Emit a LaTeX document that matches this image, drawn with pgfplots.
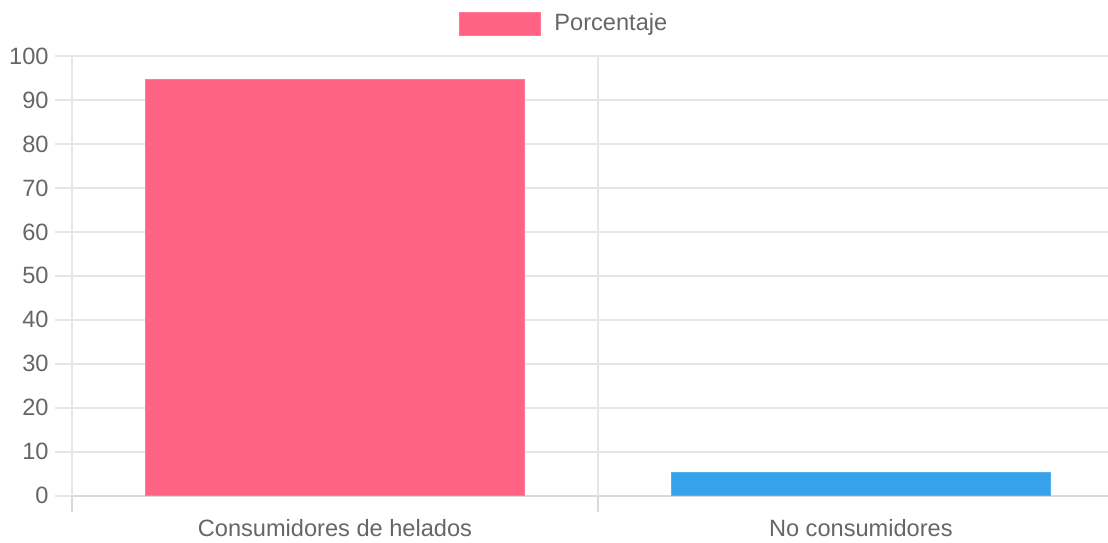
\documentclass[border=0pt]{standalone}
\usepackage{pgfplots}
\pgfplotsset{compat=1.18}
\usepackage{fontspec}
\setmainfont{Liberation Sans}
\definecolor{cpink}{HTML}{FF6384}
\definecolor{cblue}{HTML}{36A2EB}
\definecolor{cgrid}{HTML}{E6E6E6}
\definecolor{caxis}{HTML}{D9D9D9}
\definecolor{ctext}{HTML}{666666}
\begin{document}
\begin{tikzpicture}[x=1pt,y=1pt]
\useasboundingbox (0,0) rectangle (554,271);
\begin{axis}[
  at={(36pt,23.15pt)}, anchor=south west,
  scale only axis, width=518pt, height=219.85pt,
  xmin=-0.5, xmax=1.47, ymin=0, ymax=100,
  axis x line*=bottom, axis y line*=left,
  axis line style={-, draw=caxis, line width=1pt},
  ytick={0,10,...,100},
  /pgf/number format/assume math mode=true,
  ymajorgrids, grid style={draw=cgrid, line width=1pt},
  y tick style={draw=cgrid, line width=1pt},
  tick align=outside, major tick length=8.5pt,
  xtick={0,1}, xticklabels={Consumidores de helados, No consumidores},
  x tick style={draw=none},
  extra x ticks={-0.5,0.5}, extra x tick labels={},
  extra x tick style={xmajorgrids=true, x tick style={draw=caxis, line width=1pt}, major tick length=8pt},
  tick label style={font=\fontsize{11.8}{13}\selectfont, text=ctext},
  yticklabel style={inner sep=0pt, anchor=east, xshift=-3pt},
  xticklabel style={inner sep=0pt, anchor=north, yshift=-3pt},
  ybar, bar width=0.72, bar shift=0pt,
  legend style={at={(0.3736,1.0739)}, anchor=west, draw=none, fill=none,
    inner sep=0pt, nodes={inner sep=0pt, text=ctext, font=\fontsize{11.8}{13}\selectfont},
    column sep=6.5pt},
  legend image code/.code={\fill[#1] (0pt,-5.75pt) rectangle (40.5pt,5.75pt);},
  clip=false,
]
\addplot[fill=cpink, draw=cpink!85!white, line width=0.5pt] coordinates {(0,94.74)};
\addlegendentry{Porcentaje}
\addplot[fill=cblue, draw=cblue!85!white, line width=0.5pt, forget plot] coordinates {(1,5.26)};
\end{axis}
\end{tikzpicture}
\end{document}
